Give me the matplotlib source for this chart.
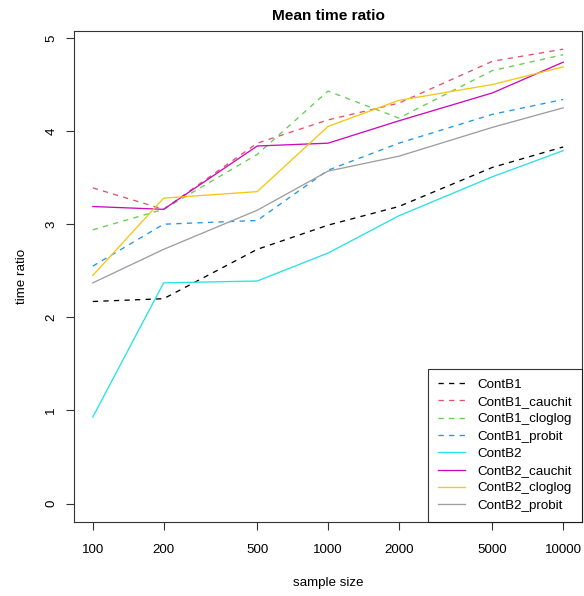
import matplotlib
matplotlib.use('Agg')
import matplotlib.pyplot as plt

plt.rcParams['font.family'] = ['Liberation Sans', 'DejaVu Sans']

# sample sizes (x) and mean time ratios per method
sample_size = [100, 200, 500, 1000, 2000, 5000, 10000]

contb1 = [2.17, 2.20, 2.73, 2.99, 3.19, 3.61, 3.83]
contb1_cauchit = [3.39, 3.16, 3.87, 4.12, 4.30, 4.75, 4.88]
contb1_cloglog = [2.94, 3.16, 3.75, 4.43, 4.14, 4.65, 4.82]
contb1_probit = [2.55, 3.00, 3.04, 3.58, 3.87, 4.18, 4.34]
contb2 = [0.93, 2.37, 2.39, 2.69, 3.09, 3.51, 3.79]
contb2_cauchit = [3.19, 3.16, 3.84, 3.87, 4.11, 4.41, 4.74]
contb2_cloglog = [2.45, 3.28, 3.35, 4.05, 4.33, 4.50, 4.69]
contb2_probit = [2.37, 2.73, 3.15, 3.57, 3.73, 4.04, 4.25]

labels = ['ContB1', 'ContB1_cauchit', 'ContB1_cloglog', 'ContB1_probit',
          'ContB2', 'ContB2_cauchit', 'ContB2_cloglog', 'ContB2_probit']
series = [contb1, contb1_cauchit, contb1_cloglog, contb1_probit,
          contb2, contb2_cauchit, contb2_cloglog, contb2_probit]
# R 4 default palette
colors = ['#000000', '#DF536B', '#61D04F', '#2297E6',
          '#28E2E5', '#CD0BBC', '#F5C710', '#9E9E9E']

fig = plt.figure(figsize=(5.84, 5.96), dpi=100)
# plot region in pixels: x 74..582, y 31..521.7
ax = fig.add_axes([74 / 584, 1 - 521.7 / 596, 508 / 584, 490.7 / 596])

lw = 0.95
for i, (lab, ys, col) in enumerate(zip(labels, series, colors)):
    if i < 4:
        ax.plot(sample_size, ys, color=col, lw=lw, label=lab, dashes=(4, 4))
    else:
        ax.plot(sample_size, ys, color=col, lw=lw, label=lab)

# R style 4% axis expansion
ax.set_xscale('log')
ax.set_xlim(100 / 10 ** 0.08, 10000 * 10 ** 0.08)
ax.set_ylim(-0.195, 5.075)
ax.set_xticks(sample_size)
ax.set_xticklabels([str(s) for s in sample_size])
ax.minorticks_off()
ax.set_yticks([0, 1, 2, 3, 4, 5])
ax.set_yticklabels(['0', '1', '2', '3', '4', '5'], rotation=90, va='center')

fs = 9.6
ax.tick_params(axis='both', direction='out', length=5.5, width=0.8, labelsize=fs,
               color='#333333')
ax.tick_params(axis='x', pad=10.5)
ax.tick_params(axis='y', pad=6.5)
for sp in ax.spines.values():
    sp.set_linewidth(0.8)
    sp.set_color('#333333')

ax.set_xlabel('sample size', fontsize=fs, labelpad=15)
ax.set_ylabel('time ratio', fontsize=fs, labelpad=12.5)
ax.set_title('Mean time ratio', fontsize=11.1, fontweight='bold', pad=8)

leg = ax.legend(loc='lower right', fontsize=fs, frameon=True, fancybox=False,
                borderaxespad=0, handlelength=2.0, handletextpad=0.95,
                labelspacing=0.37, borderpad=0.75)
leg.get_frame().set_edgecolor('black')
leg.get_frame().set_linewidth(0.8)

fig.savefig('out.png', dpi=100)
